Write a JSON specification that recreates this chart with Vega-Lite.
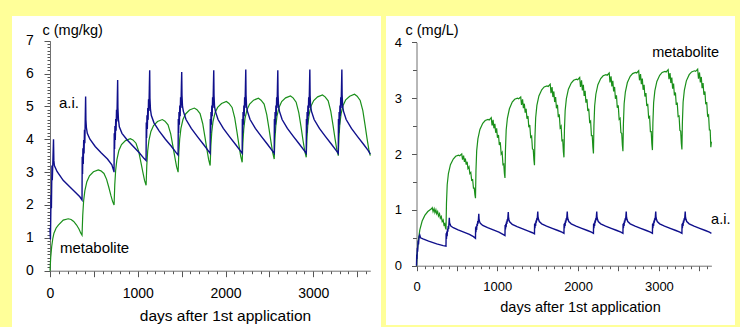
{
"$schema": "https://vega.github.io/schema/vega-lite/v6.json",
"background": "#FFFF99",
"padding": {"left": 12, "top": 16, "right": 5, "bottom": 0},
"spacing": 5,
"config": {
 "view": {"fill": "white", "stroke": null},
 "axis": {"grid": false, "labelFont": "Liberation Sans", "titleFont": "Liberation Sans", "labelColor": "#000000", "titleColor": "#000000", "titleFontWeight": "normal", "domainColor": "#707070", "tickColor": "#555555", "tickWidth": 1, "ticks": true, "labelOverlap": false, "labelFlush": false, "labelBound": false, "format": "d"},
 "text": {"font": "Liberation Sans"}
},
"datasets": {
 "La": [{"d":0,"c":1.3},{"d":5,"c":0.95},{"d":12,"c":2.3},{"d":16,"c":1.9},{"d":22,"c":3.2},{"d":26,"c":2.75},{"d":32,"c":3.25},{"d":40,"c":4.0},{"d":44,"c":3.35},{"d":50,"c":3.2},{"d":80,"c":3.02},{"d":150,"c":2.75},{"d":265,"c":2.45},{"d":340,"c":2.25},{"d":365,"c":2.15},
 {"d":367,"c":3.47},{"d":371,"c":2.94},{"d":375,"c":3.73},{"d":379,"c":3.25},{"d":384,"c":3.98},{"d":388,"c":3.57},{"d":393,"c":4.29},{"d":397,"c":3.88},{"d":402,"c":4.67},{"d":406,"c":5.3},{"d":409,"c":4.6},{"d":415,"c":4.35},{"d":425,"c":4.18},{"d":455,"c":4.0},{"d":515,"c":3.78},{"d":585,"c":3.58},{"d":655,"c":3.4},{"d":705,"c":3.22},{"d":730,"c":3.0},
 {"d":732,"c":4.18},{"d":736,"c":3.7},{"d":740,"c":4.4},{"d":744,"c":3.98},{"d":749,"c":4.62},{"d":753,"c":4.26},{"d":758,"c":4.9},{"d":762,"c":4.54},{"d":767,"c":5.24},{"d":771,"c":5.8},{"d":774,"c":4.95},{"d":780,"c":4.6},{"d":790,"c":4.38},{"d":820,"c":4.18},{"d":880,"c":3.98},{"d":950,"c":3.78},{"d":1020,"c":3.58},{"d":1070,"c":3.42},{"d":1095,"c":3.35},
 {"d":1097,"c":4.51},{"d":1101,"c":4.04},{"d":1105,"c":4.73},{"d":1109,"c":4.31},{"d":1114,"c":4.95},{"d":1118,"c":4.59},{"d":1123,"c":5.22},{"d":1127,"c":4.86},{"d":1132,"c":5.55},{"d":1136,"c":6.1},{"d":1139,"c":5.25},{"d":1145,"c":4.9},{"d":1155,"c":4.72},{"d":1185,"c":4.5},{"d":1245,"c":4.25},{"d":1315,"c":4.0},{"d":1385,"c":3.78},{"d":1435,"c":3.6},{"d":1460,"c":3.52},
 {"d":1462,"c":4.62},{"d":1466,"c":4.19},{"d":1470,"c":4.83},{"d":1474,"c":4.44},{"d":1479,"c":5.03},{"d":1483,"c":4.7},{"d":1488,"c":5.28},{"d":1492,"c":4.95},{"d":1497,"c":5.59},{"d":1501,"c":6.05},{"d":1504,"c":5.35},{"d":1510,"c":5.0},{"d":1520,"c":4.85},{"d":1550,"c":4.6},{"d":1610,"c":4.33},{"d":1680,"c":4.08},{"d":1750,"c":3.84},{"d":1800,"c":3.66},{"d":1825,"c":3.57},
 {"d":1827,"c":4.62},{"d":1831,"c":4.19},{"d":1835,"c":4.83},{"d":1839,"c":4.44},{"d":1844,"c":5.03},{"d":1848,"c":4.7},{"d":1853,"c":5.28},{"d":1857,"c":4.95},{"d":1862,"c":5.59},{"d":1866,"c":6.1},{"d":1869,"c":5.35},{"d":1875,"c":5.0},{"d":1885,"c":4.85},{"d":1915,"c":4.6},{"d":1975,"c":4.33},{"d":2045,"c":4.08},{"d":2115,"c":3.84},{"d":2165,"c":3.66},{"d":2190,"c":3.57},
 {"d":2192,"c":4.62},{"d":2196,"c":4.19},{"d":2200,"c":4.83},{"d":2204,"c":4.44},{"d":2209,"c":5.03},{"d":2213,"c":4.7},{"d":2218,"c":5.28},{"d":2222,"c":4.95},{"d":2227,"c":5.59},{"d":2231,"c":6.12},{"d":2234,"c":5.35},{"d":2240,"c":5.0},{"d":2250,"c":4.85},{"d":2280,"c":4.6},{"d":2340,"c":4.33},{"d":2410,"c":4.08},{"d":2480,"c":3.84},{"d":2530,"c":3.66},{"d":2555,"c":3.57},
 {"d":2557,"c":4.62},{"d":2561,"c":4.19},{"d":2565,"c":4.83},{"d":2569,"c":4.44},{"d":2574,"c":5.03},{"d":2578,"c":4.7},{"d":2583,"c":5.28},{"d":2587,"c":4.95},{"d":2592,"c":5.59},{"d":2596,"c":6.1},{"d":2599,"c":5.35},{"d":2605,"c":5.0},{"d":2615,"c":4.85},{"d":2645,"c":4.6},{"d":2705,"c":4.33},{"d":2775,"c":4.08},{"d":2845,"c":3.84},{"d":2895,"c":3.66},{"d":2920,"c":3.57},
 {"d":2922,"c":4.62},{"d":2926,"c":4.19},{"d":2930,"c":4.83},{"d":2934,"c":4.44},{"d":2939,"c":5.03},{"d":2943,"c":4.7},{"d":2948,"c":5.28},{"d":2952,"c":4.95},{"d":2957,"c":5.59},{"d":2961,"c":6.12},{"d":2964,"c":5.35},{"d":2970,"c":5.0},{"d":2980,"c":4.85},{"d":3010,"c":4.6},{"d":3070,"c":4.33},{"d":3140,"c":4.08},{"d":3210,"c":3.84},{"d":3260,"c":3.66},{"d":3285,"c":3.57},
 {"d":3287,"c":4.62},{"d":3291,"c":4.19},{"d":3295,"c":4.83},{"d":3299,"c":4.44},{"d":3304,"c":5.03},{"d":3308,"c":4.7},{"d":3313,"c":5.28},{"d":3317,"c":4.95},{"d":3322,"c":5.59},{"d":3326,"c":6.12},{"d":3329,"c":5.35},{"d":3335,"c":5.0},{"d":3345,"c":4.85},{"d":3375,"c":4.6},{"d":3435,"c":4.33},{"d":3505,"c":4.08},{"d":3575,"c":3.84},{"d":3625,"c":3.66},{"d":3650,"c":3.55}],
 "Lm": [{"d":0,"c":0},{"d":8,"c":0.4},{"d":19,"c":0.73},{"d":32,"c":0.98},{"d":45,"c":1.14},{"d":70,"c":1.3},{"d":95,"c":1.39},{"d":151,"c":1.54},{"d":208,"c":1.58},{"d":240,"c":1.56},{"d":270,"c":1.5},{"d":303,"c":1.39},{"d":330,"c":1.27},{"d":350,"c":1.15},{"d":365,"c":1.08},
 {"d":373,"c":1.68},{"d":383,"c":2.12},{"d":397,"c":2.43},{"d":420,"c":2.71},{"d":450,"c":2.89},{"d":495,"c":3.01},{"d":550,"c":3.07},{"d":580,"c":3.04},{"d":615,"c":2.96},{"d":645,"c":2.78},{"d":670,"c":2.54},{"d":693,"c":2.3},{"d":713,"c":2.11},{"d":730,"c":2.0},
 {"d":738,"c":2.61},{"d":748,"c":3.05},{"d":762,"c":3.37},{"d":785,"c":3.66},{"d":815,"c":3.84},{"d":860,"c":3.96},{"d":915,"c":4.02},{"d":945,"c":3.98},{"d":980,"c":3.88},{"d":1010,"c":3.64},{"d":1035,"c":3.31},{"d":1058,"c":3.0},{"d":1078,"c":2.74},{"d":1095,"c":2.6},
 {"d":1103,"c":3.2},{"d":1113,"c":3.64},{"d":1127,"c":3.96},{"d":1150,"c":4.24},{"d":1180,"c":4.42},{"d":1225,"c":4.54},{"d":1280,"c":4.6},{"d":1310,"c":4.55},{"d":1345,"c":4.44},{"d":1375,"c":4.17},{"d":1400,"c":3.8},{"d":1423,"c":3.45},{"d":1443,"c":3.16},{"d":1460,"c":3.0},
 {"d":1468,"c":3.59},{"d":1478,"c":4.01},{"d":1492,"c":4.33},{"d":1515,"c":4.6},{"d":1545,"c":4.77},{"d":1590,"c":4.89},{"d":1645,"c":4.95},{"d":1675,"c":4.9},{"d":1710,"c":4.78},{"d":1740,"c":4.48},{"d":1765,"c":4.08},{"d":1788,"c":3.69},{"d":1808,"c":3.38},{"d":1825,"c":3.2},
 {"d":1833,"c":3.79},{"d":1843,"c":4.21},{"d":1857,"c":4.53},{"d":1880,"c":4.8},{"d":1910,"c":4.97},{"d":1955,"c":5.09},{"d":2010,"c":5.15},{"d":2040,"c":5.09},{"d":2075,"c":4.97},{"d":2105,"c":4.65},{"d":2130,"c":4.23},{"d":2153,"c":3.82},{"d":2173,"c":3.49},{"d":2190,"c":3.3},
 {"d":2198,"c":3.89},{"d":2208,"c":4.31},{"d":2222,"c":4.63},{"d":2245,"c":4.9},{"d":2275,"c":5.07},{"d":2320,"c":5.19},{"d":2375,"c":5.25},{"d":2405,"c":5.19},{"d":2440,"c":5.07},{"d":2470,"c":4.75},{"d":2495,"c":4.33},{"d":2518,"c":3.92},{"d":2538,"c":3.59},{"d":2555,"c":3.4},
 {"d":2563,"c":3.98},{"d":2573,"c":4.4},{"d":2587,"c":4.71},{"d":2610,"c":4.97},{"d":2640,"c":5.15},{"d":2685,"c":5.26},{"d":2740,"c":5.32},{"d":2770,"c":5.26},{"d":2805,"c":5.13},{"d":2835,"c":4.81},{"d":2860,"c":4.39},{"d":2883,"c":3.97},{"d":2903,"c":3.64},{"d":2920,"c":3.45},
 {"d":2928,"c":4.02},{"d":2938,"c":4.44},{"d":2952,"c":4.74},{"d":2975,"c":5.01},{"d":3005,"c":5.18},{"d":3050,"c":5.29},{"d":3105,"c":5.35},{"d":3135,"c":5.29},{"d":3170,"c":5.17},{"d":3200,"c":4.85},{"d":3225,"c":4.43},{"d":3248,"c":4.02},{"d":3268,"c":3.69},{"d":3285,"c":3.5},
 {"d":3293,"c":4.06},{"d":3303,"c":4.47},{"d":3317,"c":4.77},{"d":3340,"c":5.03},{"d":3370,"c":5.2},{"d":3415,"c":5.31},{"d":3470,"c":5.37},{"d":3500,"c":5.31},{"d":3535,"c":5.18},{"d":3565,"c":4.87},{"d":3590,"c":4.44},{"d":3613,"c":4.02},{"d":3633,"c":3.69},{"d":3650,"c":3.5}],
 "Ra": [{"d":0,"c":0},{"d":3,"c":0.2},{"d":6,"c":0.12},{"d":10,"c":0.32},{"d":14,"c":0.25},{"d":20,"c":0.45},{"d":25,"c":0.38},{"d":32,"c":0.52},{"d":40,"c":0.55},{"d":50,"c":0.5},{"d":80,"c":0.48},{"d":150,"c":0.44},{"d":250,"c":0.39},{"d":330,"c":0.36},{"d":365,"c":0.35},
 {"d":367,"c":0.58},{"d":371,"c":0.48},{"d":375,"c":0.61},{"d":379,"c":0.53},{"d":384,"c":0.66},{"d":388,"c":0.61},{"d":393,"c":0.71},{"d":397,"c":0.66},{"d":402,"c":0.76},{"d":406,"c":0.86},{"d":409,"c":0.78},{"d":415,"c":0.74},{"d":425,"c":0.71},{"d":455,"c":0.68},{"d":515,"c":0.64},{"d":585,"c":0.6},{"d":655,"c":0.56},{"d":705,"c":0.52},{"d":730,"c":0.49},
 {"d":732,"c":0.69},{"d":736,"c":0.6},{"d":740,"c":0.71},{"d":744,"c":0.64},{"d":749,"c":0.75},{"d":753,"c":0.71},{"d":758,"c":0.8},{"d":762,"c":0.75},{"d":767,"c":0.84},{"d":771,"c":0.93},{"d":774,"c":0.84},{"d":780,"c":0.79},{"d":790,"c":0.76},{"d":820,"c":0.72},{"d":880,"c":0.68},{"d":950,"c":0.64},{"d":1020,"c":0.6},{"d":1070,"c":0.56},{"d":1095,"c":0.54},
 {"d":1097,"c":0.73},{"d":1101,"c":0.65},{"d":1105,"c":0.75},{"d":1109,"c":0.69},{"d":1114,"c":0.79},{"d":1118,"c":0.75},{"d":1123,"c":0.83},{"d":1127,"c":0.79},{"d":1132,"c":0.88},{"d":1136,"c":0.96},{"d":1139,"c":0.87},{"d":1145,"c":0.82},{"d":1155,"c":0.78},{"d":1185,"c":0.74},{"d":1245,"c":0.7},{"d":1315,"c":0.66},{"d":1385,"c":0.62},{"d":1435,"c":0.59},{"d":1460,"c":0.57},
 {"d":1462,"c":0.75},{"d":1466,"c":0.67},{"d":1470,"c":0.77},{"d":1474,"c":0.71},{"d":1479,"c":0.81},{"d":1483,"c":0.77},{"d":1488,"c":0.85},{"d":1492,"c":0.81},{"d":1497,"c":0.89},{"d":1501,"c":0.97},{"d":1504,"c":0.88},{"d":1510,"c":0.83},{"d":1520,"c":0.79},{"d":1550,"c":0.75},{"d":1610,"c":0.71},{"d":1680,"c":0.67},{"d":1750,"c":0.63},{"d":1800,"c":0.6},{"d":1825,"c":0.58},
 {"d":1827,"c":0.75},{"d":1831,"c":0.67},{"d":1835,"c":0.77},{"d":1839,"c":0.71},{"d":1844,"c":0.81},{"d":1848,"c":0.77},{"d":1853,"c":0.85},{"d":1857,"c":0.81},{"d":1862,"c":0.89},{"d":1866,"c":0.97},{"d":1869,"c":0.88},{"d":1875,"c":0.83},{"d":1885,"c":0.79},{"d":1915,"c":0.75},{"d":1975,"c":0.71},{"d":2045,"c":0.67},{"d":2115,"c":0.63},{"d":2165,"c":0.6},{"d":2190,"c":0.58},
 {"d":2192,"c":0.75},{"d":2196,"c":0.67},{"d":2200,"c":0.77},{"d":2204,"c":0.71},{"d":2209,"c":0.81},{"d":2213,"c":0.77},{"d":2218,"c":0.85},{"d":2222,"c":0.81},{"d":2227,"c":0.89},{"d":2231,"c":0.97},{"d":2234,"c":0.88},{"d":2240,"c":0.83},{"d":2250,"c":0.79},{"d":2280,"c":0.75},{"d":2340,"c":0.71},{"d":2410,"c":0.67},{"d":2480,"c":0.63},{"d":2530,"c":0.6},{"d":2555,"c":0.58},
 {"d":2557,"c":0.75},{"d":2561,"c":0.67},{"d":2565,"c":0.77},{"d":2569,"c":0.71},{"d":2574,"c":0.81},{"d":2578,"c":0.77},{"d":2583,"c":0.85},{"d":2587,"c":0.81},{"d":2592,"c":0.89},{"d":2596,"c":0.97},{"d":2599,"c":0.88},{"d":2605,"c":0.83},{"d":2615,"c":0.79},{"d":2645,"c":0.75},{"d":2705,"c":0.71},{"d":2775,"c":0.67},{"d":2845,"c":0.63},{"d":2895,"c":0.6},{"d":2920,"c":0.58},
 {"d":2922,"c":0.75},{"d":2926,"c":0.67},{"d":2930,"c":0.77},{"d":2934,"c":0.71},{"d":2939,"c":0.81},{"d":2943,"c":0.77},{"d":2948,"c":0.85},{"d":2952,"c":0.81},{"d":2957,"c":0.89},{"d":2961,"c":0.97},{"d":2964,"c":0.88},{"d":2970,"c":0.83},{"d":2980,"c":0.79},{"d":3010,"c":0.75},{"d":3070,"c":0.71},{"d":3140,"c":0.67},{"d":3210,"c":0.63},{"d":3260,"c":0.6},{"d":3285,"c":0.58},
 {"d":3287,"c":0.75},{"d":3291,"c":0.67},{"d":3295,"c":0.77},{"d":3299,"c":0.71},{"d":3304,"c":0.81},{"d":3308,"c":0.77},{"d":3313,"c":0.85},{"d":3317,"c":0.81},{"d":3322,"c":0.89},{"d":3326,"c":0.97},{"d":3329,"c":0.88},{"d":3335,"c":0.83},{"d":3345,"c":0.79},{"d":3375,"c":0.75},{"d":3435,"c":0.71},{"d":3505,"c":0.67},{"d":3575,"c":0.63},{"d":3625,"c":0.6},{"d":3650,"c":0.58}],
 "Rm": [{"d":0,"c":0},{"d":10,"c":0.25},{"d":20,"c":0.42},{"d":41,"c":0.64},{"d":70,"c":0.8},{"d":103,"c":0.9},{"d":140,"c":0.97},{"d":185,"c":1.02},{"d":195,"c":1.04},{"d":205,"c":0.97},{"d":218,"c":1.02},{"d":228,"c":0.95},{"d":240,"c":1.0},{"d":250,"c":0.93},{"d":262,"c":0.97},{"d":272,"c":0.89},{"d":285,"c":0.93},{"d":295,"c":0.85},{"d":307,"c":0.88},{"d":318,"c":0.79},{"d":330,"c":0.82},{"d":340,"c":0.73},{"d":350,"c":0.75},{"d":358,"c":0.68},{"d":365,"c":0.65},
 {"d":371,"c":1.12},{"d":380,"c":1.45},{"d":395,"c":1.65},{"d":420,"c":1.81},{"d":455,"c":1.91},{"d":485,"c":1.96},{"d":520,"c":1.98},{"d":535,"c":1.97},{"d":560,"c":2.0},{"d":570,"c":1.9},{"d":583,"c":1.97},{"d":593,"c":1.86},{"d":605,"c":1.92},{"d":615,"c":1.81},{"d":627,"c":1.86},{"d":637,"c":1.74},{"d":650,"c":1.77},{"d":660,"c":1.65},{"d":672,"c":1.67},{"d":683,"c":1.53},{"d":695,"c":1.54},{"d":705,"c":1.39},{"d":715,"c":1.39},{"d":723,"c":1.27},{"d":730,"c":1.21},
 {"d":736,"c":1.7},{"d":745,"c":2.06},{"d":760,"c":2.27},{"d":785,"c":2.44},{"d":820,"c":2.55},{"d":850,"c":2.6},{"d":885,"c":2.62},{"d":900,"c":2.61},{"d":925,"c":2.65},{"d":935,"c":2.51},{"d":948,"c":2.61},{"d":958,"c":2.46},{"d":970,"c":2.54},{"d":980,"c":2.38},{"d":992,"c":2.46},{"d":1002,"c":2.29},{"d":1015,"c":2.34},{"d":1025,"c":2.16},{"d":1037,"c":2.21},{"d":1048,"c":2.0},{"d":1060,"c":2.03},{"d":1070,"c":1.81},{"d":1080,"c":1.82},{"d":1088,"c":1.65},{"d":1095,"c":1.57},
 {"d":1101,"c":2.07},{"d":1110,"c":2.43},{"d":1125,"c":2.64},{"d":1150,"c":2.81},{"d":1185,"c":2.93},{"d":1215,"c":2.98},{"d":1250,"c":3.0},{"d":1265,"c":2.99},{"d":1290,"c":3.02},{"d":1300,"c":2.88},{"d":1313,"c":2.98},{"d":1323,"c":2.82},{"d":1335,"c":2.9},{"d":1345,"c":2.74},{"d":1357,"c":2.81},{"d":1367,"c":2.63},{"d":1380,"c":2.68},{"d":1390,"c":2.48},{"d":1402,"c":2.52},{"d":1413,"c":2.3},{"d":1425,"c":2.32},{"d":1435,"c":2.09},{"d":1445,"c":2.08},{"d":1453,"c":1.9},{"d":1460,"c":1.8},
 {"d":1466,"c":2.3},{"d":1475,"c":2.65},{"d":1490,"c":2.87},{"d":1515,"c":3.04},{"d":1550,"c":3.15},{"d":1580,"c":3.2},{"d":1615,"c":3.22},{"d":1630,"c":3.21},{"d":1655,"c":3.25},{"d":1665,"c":3.09},{"d":1678,"c":3.2},{"d":1688,"c":3.02},{"d":1700,"c":3.12},{"d":1710,"c":2.93},{"d":1722,"c":3.02},{"d":1732,"c":2.82},{"d":1745,"c":2.88},{"d":1755,"c":2.66},{"d":1767,"c":2.71},{"d":1778,"c":2.47},{"d":1790,"c":2.5},{"d":1800,"c":2.24},{"d":1810,"c":2.25},{"d":1818,"c":2.04},{"d":1825,"c":1.94},
 {"d":1831,"c":2.43},{"d":1840,"c":2.78},{"d":1855,"c":2.99},{"d":1880,"c":3.16},{"d":1915,"c":3.27},{"d":1945,"c":3.32},{"d":1980,"c":3.34},{"d":1995,"c":3.33},{"d":2020,"c":3.37},{"d":2030,"c":3.2},{"d":2043,"c":3.32},{"d":2053,"c":3.14},{"d":2065,"c":3.24},{"d":2075,"c":3.04},{"d":2087,"c":3.13},{"d":2097,"c":2.92},{"d":2110,"c":2.98},{"d":2120,"c":2.77},{"d":2132,"c":2.81},{"d":2143,"c":2.57},{"d":2155,"c":2.59},{"d":2165,"c":2.33},{"d":2175,"c":2.33},{"d":2183,"c":2.12},{"d":2190,"c":2.01},
 {"d":2196,"c":2.5},{"d":2205,"c":2.86},{"d":2220,"c":3.07},{"d":2245,"c":3.24},{"d":2280,"c":3.35},{"d":2310,"c":3.4},{"d":2345,"c":3.42},{"d":2360,"c":3.41},{"d":2385,"c":3.45},{"d":2395,"c":3.28},{"d":2408,"c":3.39},{"d":2418,"c":3.21},{"d":2430,"c":3.31},{"d":2440,"c":3.12},{"d":2452,"c":3.2},{"d":2462,"c":2.99},{"d":2475,"c":3.05},{"d":2485,"c":2.83},{"d":2497,"c":2.87},{"d":2508,"c":2.62},{"d":2520,"c":2.64},{"d":2530,"c":2.38},{"d":2540,"c":2.37},{"d":2548,"c":2.16},{"d":2555,"c":2.05},
 {"d":2561,"c":2.54},{"d":2570,"c":2.9},{"d":2585,"c":3.11},{"d":2610,"c":3.28},{"d":2645,"c":3.39},{"d":2675,"c":3.44},{"d":2710,"c":3.46},{"d":2725,"c":3.45},{"d":2750,"c":3.49},{"d":2760,"c":3.32},{"d":2773,"c":3.43},{"d":2783,"c":3.25},{"d":2795,"c":3.35},{"d":2805,"c":3.15},{"d":2817,"c":3.24},{"d":2827,"c":3.03},{"d":2840,"c":3.09},{"d":2850,"c":2.86},{"d":2862,"c":2.9},{"d":2873,"c":2.65},{"d":2885,"c":2.67},{"d":2895,"c":2.4},{"d":2905,"c":2.4},{"d":2913,"c":2.18},{"d":2920,"c":2.07},
 {"d":2926,"c":2.56},{"d":2935,"c":2.92},{"d":2950,"c":3.13},{"d":2975,"c":3.3},{"d":3010,"c":3.41},{"d":3040,"c":3.46},{"d":3075,"c":3.48},{"d":3090,"c":3.47},{"d":3115,"c":3.51},{"d":3125,"c":3.34},{"d":3138,"c":3.45},{"d":3148,"c":3.27},{"d":3160,"c":3.37},{"d":3170,"c":3.17},{"d":3182,"c":3.26},{"d":3192,"c":3.05},{"d":3205,"c":3.1},{"d":3215,"c":2.88},{"d":3227,"c":2.92},{"d":3238,"c":2.67},{"d":3250,"c":2.68},{"d":3260,"c":2.42},{"d":3270,"c":2.41},{"d":3278,"c":2.19},{"d":3285,"c":2.08},
 {"d":3291,"c":2.57},{"d":3300,"c":2.93},{"d":3315,"c":3.14},{"d":3340,"c":3.31},{"d":3375,"c":3.42},{"d":3405,"c":3.47},{"d":3440,"c":3.49},{"d":3455,"c":3.48},{"d":3480,"c":3.52},{"d":3490,"c":3.35},{"d":3503,"c":3.46},{"d":3513,"c":3.28},{"d":3525,"c":3.38},{"d":3535,"c":3.18},{"d":3547,"c":3.27},{"d":3557,"c":3.06},{"d":3570,"c":3.12},{"d":3580,"c":2.89},{"d":3592,"c":2.93},{"d":3603,"c":2.68},{"d":3615,"c":2.7},{"d":3625,"c":2.43},{"d":3635,"c":2.43},{"d":3643,"c":2.12},{"d":3650,"c":2.22}],
 "Lt": [{"t":"a.i.","d":102,"c":5.1},{"t":"metabolite","d":114,"c":0.68}],
 "Rt": [{"t":"metabolite","d":2917,"c":3.8},{"t":"a.i.","d":3646,"c":0.82}]
},
"hconcat": [
 {
  "width": 369, "height": 311,
  "encoding": {
   "x": {"field": "d", "type": "quantitative",
    "scale": {"domain": [0, 3650], "range": [38, 358.3], "nice": false, "zero": false},
    "axis": {"values": [0,100,200,300,400,500,600,700,800,900,1000,1100,1200,1300,1400,1500,1600,1700,1800,1900,2000,2100,2200,2300,2400,2500,2600,2700,2800,2900,3000,3100,3200,3300,3400,3500,3600],
     "labelExpr": "datum.value % 1000 === 0 ? datum.label : ''",
     "tickSize": {"condition": {"test": "datum.value % 500 === 0", "value": 6}, "value": 3},
     "labelFontSize": 14, "labelPadding": 9.7, "offset": -56.3,
     "title": "days after 1st application", "titleFontSize": 15.5, "titleX": 213, "titleY": 45, "titleBaseline": "middle", "titleAlign": "center"}},
   "y": {"field": "c", "type": "quantitative",
    "scale": {"domain": [0, 7], "range": [254.7, 24.7], "nice": false, "zero": false},
    "axis": {"values": [0,0.1,0.2,0.3,0.4,0.5,0.6,0.7,0.8,0.9,1,1.1,1.2,1.3,1.4,1.5,1.6,1.7,1.8,1.9,2,2.1,2.2,2.3,2.4,2.5,2.6,2.7,2.8,2.9,3,3.1,3.2,3.3,3.4,3.5,3.6,3.7,3.8,3.9,4,4.1,4.2,4.3,4.4,4.5,4.6,4.7,4.8,4.9,5,5.1,5.2,5.3,5.4,5.5,5.6,5.7,5.8,5.9,6,6.1,6.2,6.3,6.4,6.5,6.6,6.7,6.8,6.9,7],
     "labelExpr": "datum.value % 1 === 0 ? datum.label : ''",
     "tickSize": {"condition": {"test": "datum.value % 1 === 0", "value": 6}, "value": 3},
     "labelFontSize": 14, "labelPadding": 10.7, "offset": -38,
     "title": "c (mg/kg)", "titleFontSize": 14.5, "titleAngle": 0, "titleAlign": "left", "titleBaseline": "middle", "titleX": -8, "titleY": 14}}
  },
  "layer": [
   {"data": {"name": "Lm"}, "mark": {"type": "line", "color": "#1A8F1A", "strokeWidth": 1.2}},
   {"data": {"name": "La"}, "mark": {"type": "line", "color": "#10108C", "strokeWidth": 1.4}},
   {"data": {"name": "Lt"}, "mark": {"type": "text", "align": "left", "baseline": "middle", "fontSize": 15, "color": "#000000"}, "encoding": {"text": {"field": "t"}}}
  ]
 },
 {
  "width": 349, "height": 309,
  "encoding": {
   "x": {"field": "d", "type": "quantitative",
    "scale": {"domain": [0, 3650], "range": [30.5, 325.4], "nice": false, "zero": false},
    "axis": {"values": [0,100,200,300,400,500,600,700,800,900,1000,1100,1200,1300,1400,1500,1600,1700,1800,1900,2000,2100,2200,2300,2400,2500,2600,2700,2800,2900,3000,3100,3200,3300,3400,3500,3600],
     "labelExpr": "datum.value % 1000 === 0 ? datum.label : ''",
     "tickSize": {"condition": {"test": "datum.value % 500 === 0", "value": 5}, "value": 3},
     "labelFontSize": 13, "labelPadding": 10, "offset": -59.3,
     "title": "days after 1st application", "titleFontSize": 14.5, "titleX": 194, "titleY": 42, "titleBaseline": "middle", "titleAlign": "center"}},
   "y": {"field": "c", "type": "quantitative",
    "scale": {"domain": [0, 4], "range": [249.7, 26.3], "nice": false, "zero": false},
    "axis": {"values": [0,0.5,1,1.5,2,2.5,3,3.5,4],
     "labelExpr": "datum.value % 1 === 0 ? datum.label : ''",
     "tickSize": {"condition": {"test": "datum.value % 1 === 0", "value": 5}, "value": 4},
     "labelFontSize": 13, "labelPadding": 10, "offset": -30.5,
     "title": "c (mg/L)", "titleFontSize": 14.5, "titleAngle": 0, "titleAlign": "left", "titleBaseline": "middle", "titleX": -11.5, "titleY": 14}}
  },
  "layer": [
   {"data": {"name": "Rm"}, "mark": {"type": "line", "color": "#1A8F1A", "strokeWidth": 1.2}},
   {"data": {"name": "Ra"}, "mark": {"type": "line", "color": "#10108C", "strokeWidth": 1.4}},
   {"data": {"name": "Rt"}, "mark": {"type": "text", "align": "left", "baseline": "middle", "fontSize": 14.5, "color": "#000000"}, "encoding": {"text": {"field": "t"}}}
  ]
 }
]
}
